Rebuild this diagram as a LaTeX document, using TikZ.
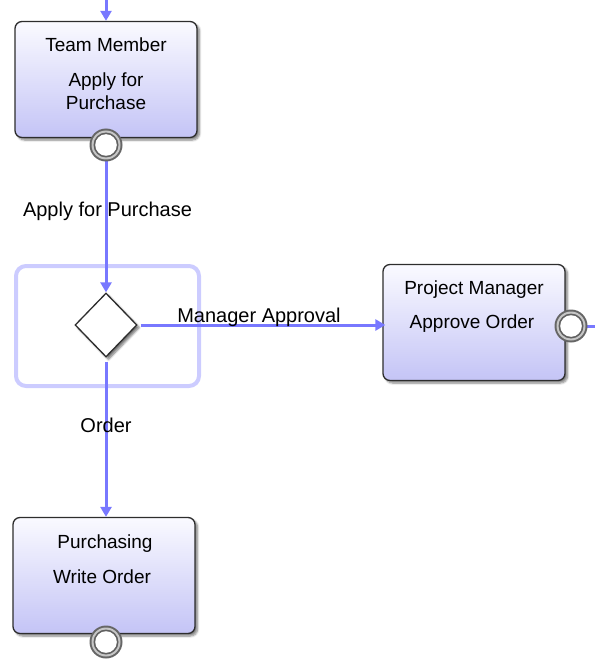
\documentclass[tikz,border=0pt]{standalone}
\usepackage{fontspec}
\setmainfont{Liberation Sans}
\usetikzlibrary{shapes.geometric,arrows.meta,shadows.blur}
\definecolor{flow}{RGB}{120,120,255}
\definecolor{gwframe}{RGB}{204,204,255}
\definecolor{tasktop}{RGB}{250,250,255}
\definecolor{taskbot}{RGB}{196,196,246}
\definecolor{taskedge}{RGB}{45,45,45}
\begin{document}
\begin{tikzpicture}[x=1pt,y=1pt,
  task/.style={rectangle, rounded corners=7pt, draw=taskedge, line width=1.3pt,
    minimum width=182pt, minimum height=116pt, top color=tasktop, bottom color=taskbot,
    blur shadow={shadow xshift=2.5pt, shadow yshift=-2.5pt, shadow blur steps=6, shadow opacity=50}},
  txt/.style={font=\fontsize{19}{22}\selectfont, anchor=base, inner sep=0pt},
  lbl/.style={font=\fontsize{20}{24}\selectfont, anchor=base, inner sep=0pt},
  flowline/.style={draw=flow, line width=3pt, -{Triangle[length=10pt,width=11pt]}},
  flowplain/.style={draw=flow, line width=3pt},
  endev/.style={circle, minimum size=33pt, inner sep=0pt, fill=gray!80!black,
    path picture={
      \fill[gray!45] (path picture bounding box.center) circle (14.5pt);
      \fill[gray!75!black] (path picture bounding box.center) circle (12.5pt);
      \fill[white] (path picture bounding box.center) circle (10.8pt);}},
  gwbox/.style={draw=gwframe, line width=4pt, rounded corners=10pt,
    minimum width=183pt, minimum height=120pt, inner sep=0pt},
  gateway/.style={diamond, draw=taskedge, line width=1.3pt, fill=white,
    minimum width=62pt, minimum height=64pt, inner sep=0pt,
    blur shadow={shadow xshift=2.5pt, shadow yshift=-2.5pt, shadow blur steps=6, shadow opacity=55}}
]
\useasboundingbox (0,0) rectangle (595,-660);

% Team Member task
\node[task] (tm) at (106,-79.5) {};
\node[txt] (tm1) at (106,-51.5) {Team Member};
\node[txt] (tm2) at (106,-86.5) {Apply for};
\node[txt] (tm3) at (106,-109.5) {Purchase};

% Gateway
\node[gwbox] (gwf) at (107.5,-326) {};
\node[gateway] (gw) at (106,-325) {};

% Project Manager task
\node[task] (pm) at (474,-322.5) {};
\node[txt] (pm1) at (474,-294.5) {Project Manager};
\node[txt] (pm2) at (472,-328.5) {Approve Order};

% Purchasing task
\node[task] (pu) at (104,-575.5) {};
\node[txt] (pu1) at (105,-548.5) {Purchasing};
\node[txt] (pu2) at (102,-583.5) {Write Order};

% free ends
\coordinate (topin) at (106,0);
\coordinate (rightout) at (595,-326);

% end events (positions)
\coordinate (tmcpos) at (106,-145);
\coordinate (pmcpos) at (571,-326);
\coordinate (pucpos) at (106,-642);

% connectors
\draw[flowline] (topin) -- (tm.north);
\draw[flowline] (tmcpos) -- (gw.north);
\draw[flowline] ([xshift=3pt]gw.east) -- ([xshift=3pt]gw.east -| pm.west);
\draw[flowline] ([yshift=-4pt]gw.south) -- (gw.south |- pu.north);
\draw[flowplain] (pmcpos) -- (rightout);

% end events on top of connectors
\node[endev] (tmc) at (tmcpos) {};
\node[endev] (pmc) at (pmcpos) {};
\node[endev] (puc) at (pucpos) {};

% connector labels
\node[lbl] (l1) at (107.5,-216) {Apply for Purchase};
\node[lbl] (l2) at (259,-322) {Manager Approval};
\node[lbl] (l3) at (106,-432) {Order};
\end{tikzpicture}
\end{document}
